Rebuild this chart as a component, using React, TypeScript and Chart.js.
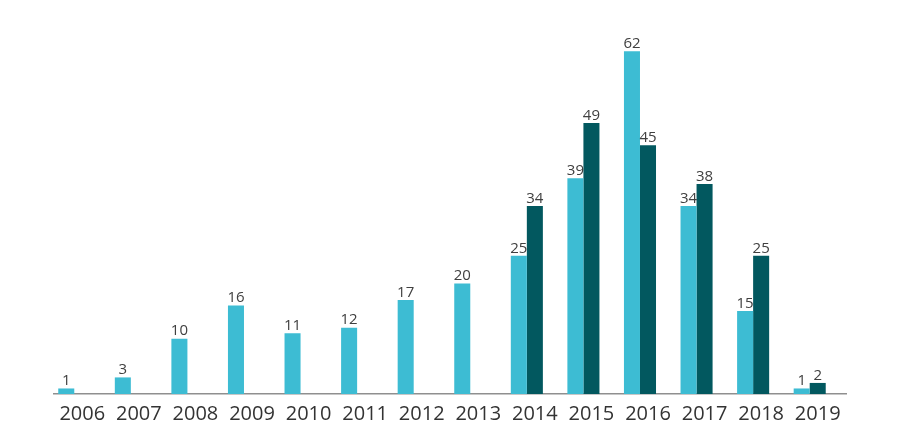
import React, { useEffect, useRef } from "react";
import { Chart, registerables } from "chart.js";

Chart.register(...registerables);

const categories = ["2006","2007","2008","2009","2010","2011","2012","2013","2014","2015","2016","2017","2018","2019"];
const seriesA = [1, 3, 10, 16, 11, 12, 17, 20, 25, 39, 62, 34, 15, 1];
const seriesB = [null, null, null, null, null, null, null, null, 34, 49, 45, 38, 25, 2];
const seriesC = [null, null, null, null, null, null, null, null, null, null, null, null, null, null];

const valueLabels = {
  id: "valueLabels",
  afterDatasetsDraw(chart: any) {
    const ctx = chart.ctx;
    ctx.save();
    ctx.font = "15px 'Open Sans', 'DejaVu Sans', sans-serif";
    ctx.fillStyle = "#404040";
    ctx.textAlign = "center";
    ctx.textBaseline = "bottom";
    chart.data.datasets.forEach((ds: any, i: number) => {
      const meta = chart.getDatasetMeta(i);
      meta.data.forEach((el: any, j: number) => {
        const v = ds.data[j];
        if (v === null || v === undefined) return;
        ctx.fillText(String(v), el.x, el.y);
      });
    });
    ctx.restore();
  },
};

export default function App() {
  const ref = useRef<HTMLCanvasElement>(null);
  useEffect(() => {
    const chart = new Chart(ref.current!, {
      type: "bar",
      data: {
        labels: categories,
        datasets: [
          { label: "A", data: seriesA, backgroundColor: "#3dbcd3" },
          { label: "B", data: seriesB as any, backgroundColor: "#02585f" },
          { label: "C", data: seriesC as any, backgroundColor: "#e8803a" },
        ],
      },
      options: {
        animation: false,
        responsive: false,
        maintainAspectRatio: false,
        layout: { padding: { left: 54, right: 75, top: 18, bottom: 0 } },
        datasets: { bar: { categoryPercentage: 0.85, barPercentage: 1 } },
        plugins: { legend: { display: false }, tooltip: { enabled: false } },
        scales: {
          x: {
            grid: { display: false, drawTicks: false },
            border: { display: true, color: "#8f8f8f", width: 1.5 },
            ticks: {
              color: "#333333",
              font: { size: 20, family: "'Open Sans', 'DejaVu Sans', sans-serif" },
              padding: 8,
              maxRotation: 0,
              autoSkip: false,
            },
            afterFit(scale: any) {
              scale.height = 49;
            },
          },
          y: {
            display: false,
            min: 0,
            max: 68,
          },
        },
      },
      plugins: [valueLabels],
    });
    return () => chart.destroy();
  }, []);
  return (
    <div style={{ position: "fixed", left: 0, top: 0, width: 921, height: 443, background: "#fff" }}>
      <canvas ref={ref} width={921} height={443} style={{ display: "block" }} />
    </div>
  );
}
